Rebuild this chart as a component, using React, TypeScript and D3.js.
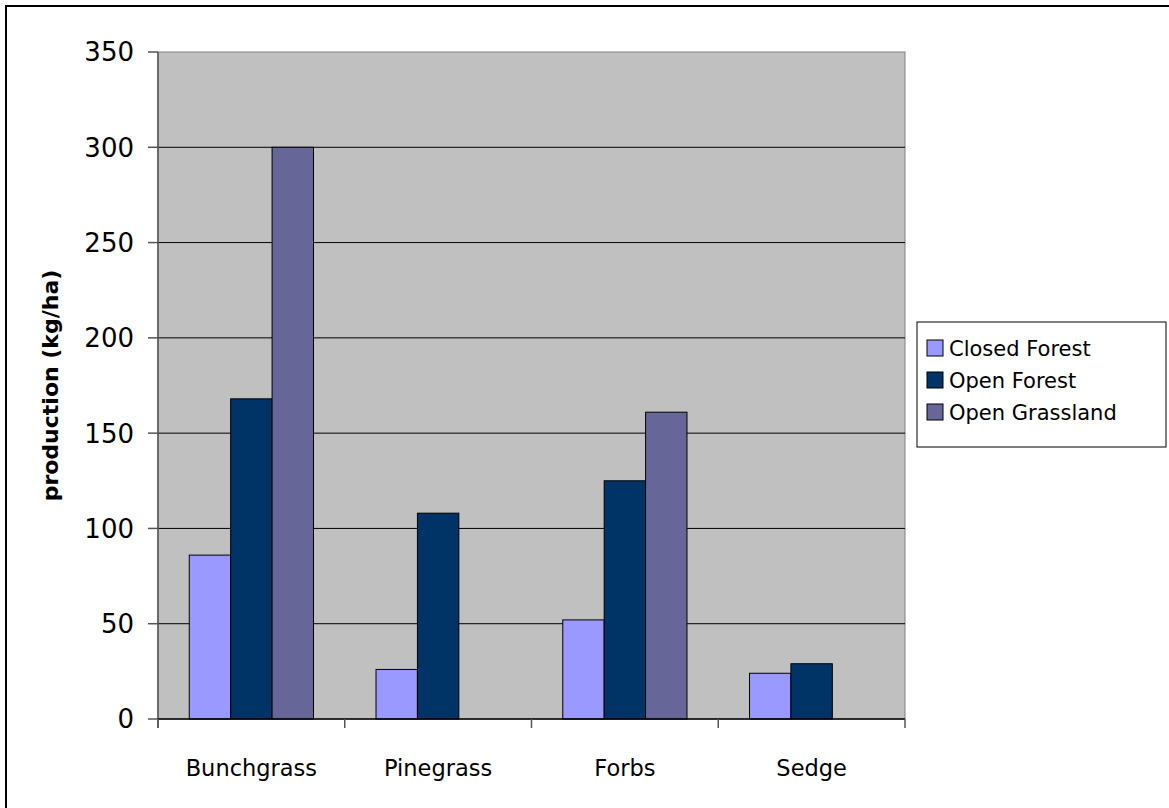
import React from 'react'
import * as d3 from 'd3';

const categories = ['Bunchgrass', 'Pinegrass', 'Forbs', 'Sedge'];
const seriesNames = ['Closed Forest', 'Open Forest', 'Open Grassland'];
const closedForest = [86, 26, 52, 24];
const openForest = [168, 108, 125, 29];
const openGrassland: (number | null)[] = [300, null, 161, null];
const yTicks = [0, 50, 100, 150, 200, 250, 300, 350];
const colors = ['#9999FF', '#003366', '#666699'];

const FONT = '"DejaVu Sans", sans-serif';

const App = () => {
  const series = [closedForest, openForest, openGrassland];
  const left = 158, right = 905, top = 52, bottom = 719;

  const x0 = d3.scaleBand().domain(categories).range([left, right]).padding(0);
  const x1 = d3.scaleBand().domain(seriesNames).range([0, x0.bandwidth()])
    .paddingInner(0).paddingOuter(0.755);
  const y = d3.scaleLinear().domain([0, 350]).range([bottom, top]);

  return (
    <svg width={1169} height={808} style={{ position: 'absolute', left: 0, top: 0 }}>
      <rect x={0} y={0} width={1169} height={808} fill='#fff' />
      <rect x={6} y={6} width={1170} height={810} fill='none' stroke='#000' strokeWidth={2} />

      {/* plot area */}
      <rect x={left} y={top} width={right - left} height={bottom - top} fill='#C0C0C0' stroke='#808080' strokeWidth={1} />
      {yTicks.filter(t => t > 0 && t < 350).map(t =>
        <line key={t} x1={left} x2={right} y1={y(t)} y2={y(t)} stroke='#000' strokeWidth={1} />
      )}

      {/* bars */}
      {categories.map((c, i) => (
        <g key={c}>
          {series.map((s, j) => {
            const v = s[i];
            if (v == null) return null;
            return (
              <rect key={j}
                x={(x0(c) ?? 0) + (x1(seriesNames[j]) ?? 0)}
                y={y(v)}
                width={x1.bandwidth()}
                height={y(0) - y(v)}
                fill={colors[j]} stroke='#000' strokeWidth={1} />
            );
          })}
        </g>
      ))}

      {/* axes */}
      <line x1={left} x2={left} y1={top} y2={bottom + 9} stroke='#555' strokeWidth={1.5} />
      <line x1={left} x2={right} y1={bottom} y2={bottom} stroke='#000' strokeWidth={1.5} />
      {yTicks.map(t => (
        <g key={t}>
          <line x1={left - 10} x2={left} y1={y(t)} y2={y(t)} stroke='#555' strokeWidth={1.5} />
          <text x={134} y={y(t)} dy='0.36em' textAnchor='end' fontFamily={FONT} fontSize={26} fill='#000'>{t}</text>
        </g>
      ))}
      {[...categories.map(c => x0(c) ?? 0), right].map((xv, i) =>
        <line key={i} x1={xv} x2={xv} y1={bottom} y2={bottom + 9} stroke='#555' strokeWidth={1.5} />
      )}
      {categories.map(c => (
        <text key={c} x={(x0(c) ?? 0) + x0.bandwidth() / 2} y={776} textAnchor='middle'
          fontFamily={FONT} fontSize={22.5} fill='#000'>{c}</text>
      ))}

      <text transform={`translate(50, ${(top + bottom) / 2}) rotate(-90)`} textAnchor='middle'
        dy='0.36em' fontFamily={FONT} fontWeight='bold' fontSize={22} fill='#000'>production (kg/ha)</text>

      {/* legend */}
      <rect x={917} y={322} width={249} height={125} fill='#fff' stroke='#000' strokeWidth={1} />
      {seriesNames.map((s, i) => (
        <g key={s}>
          <rect x={927} y={340 + i * 32} width={16} height={16} fill={colors[i]} stroke='#000' strokeWidth={1} />
          <text x={949} y={348 + i * 32} dy='0.36em' fontFamily={FONT} fontSize={21} fill='#000'>{s}</text>
        </g>
      ))}
    </svg>
  )
}

export default App
